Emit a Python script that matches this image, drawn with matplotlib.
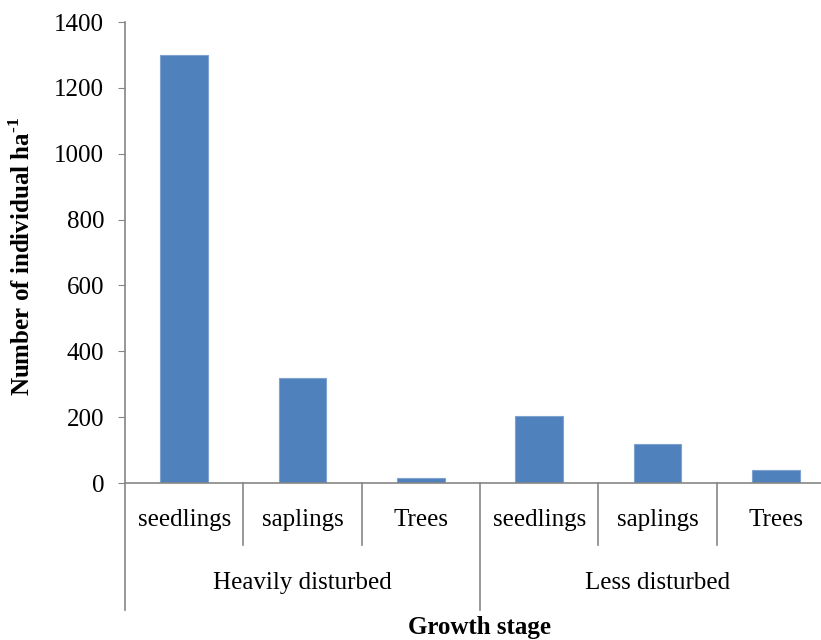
import numpy as np
import matplotlib.pyplot as plt

plt.rcParams['font.family'] = ['Liberation Serif', 'DejaVu Serif']
plt.rcParams['mathtext.fontset'] = 'custom'
plt.rcParams['mathtext.rm'] = 'Liberation Serif:bold'
plt.rcParams['mathtext.bf'] = 'Liberation Serif:bold'

# growth stages within each site
stages = ["seedlings", "saplings", "Trees", "seedlings", "saplings", "Trees"]
groups = ["Heavily disturbed", "Less disturbed"]
# density per stage (individuals per ha)
density = [1300, 318, 14, 202, 118, 40]
yticks = [0, 200, 400, 600, 800, 1000, 1200, 1400]

axis_grey = "#868686"
bar_blue = "#4F81BD"
fs = 18

fig = plt.figure(figsize=(8.21, 6.40), dpi=100)
ax = fig.add_axes([0.1523, 0.2453, 0.8647, 0.7203])

x = np.arange(len(stages))
ax.bar(x, density, width=0.405, color=bar_blue, edgecolor="#7DA2CE", linewidth=0.8)

ax.set_xlim(-0.5, len(stages) - 0.5)
ax.set_ylim(0, 1400)
ax.set_yticks(yticks)
ax.tick_params(axis="y", labelsize=fs, length=5, color=axis_grey, pad=10)
ax.set_xticks([])

for side in ["top", "right"]:
    ax.spines[side].set_visible(False)
for side in ["left", "bottom"]:
    ax.spines[side].set_color(axis_grey)
    ax.spines[side].set_linewidth(1.2)

# two-level category axis with separators
trans = ax.get_xaxis_transform()
for i in range(len(stages) + 1):
    xb = i - 0.5
    low = -0.2755 if i % 3 == 0 else -0.1345
    ax.plot([xb, xb], [0, low], transform=trans, color=axis_grey,
            linewidth=1.2, clip_on=False)

for i, name in enumerate(stages):
    ax.text(i, -0.080, name, transform=trans, ha="center", va="center",
            fontsize=fs)
for g, name in enumerate(groups):
    ax.text(g * 3 + 1, -0.217, name, transform=trans, ha="center",
            va="center", fontsize=fs)

ax.text(2.5, -0.314, "Growth stage", transform=trans, ha="center",
        va="center", fontsize=fs, fontweight="bold")
fig.text(0.027, 0.60, r"Number of individual ha$^{\text{-1}}$",
         rotation=90, ha="center", va="center", fontsize=fs,
         fontweight="bold")

fig.savefig("out.png", dpi=100)
